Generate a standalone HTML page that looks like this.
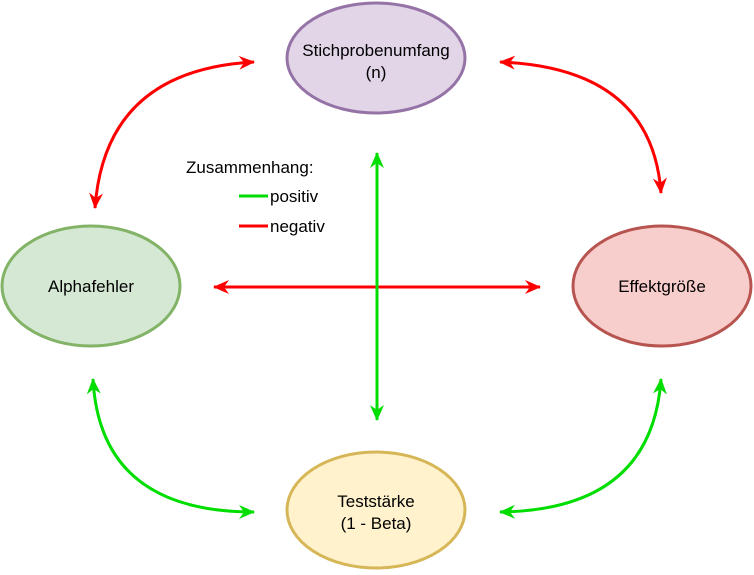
<!DOCTYPE html>
<html><head><meta charset="utf-8"><style>
html,body{margin:0;padding:0;background:#fff;}
svg{display:block;font-family:"Liberation Sans",Helvetica,Arial,sans-serif;}
</style></head><body>
<svg width="754" height="575" viewBox="0 0 754 575" xmlns="http://www.w3.org/2000/svg">
<defs>
<marker id="r" viewBox="0 0 16 14" refX="15" refY="7" markerWidth="16" markerHeight="14" orient="auto-start-reverse" markerUnits="userSpaceOnUse">
<path d="M0,0 L16,7 L0,14 L5,7 Z" fill="#ff0000"/>
</marker>
<marker id="g" viewBox="0 0 16 14" refX="15" refY="7" markerWidth="16" markerHeight="14" orient="auto-start-reverse" markerUnits="userSpaceOnUse">
<path d="M0,0 L16,7 L0,14 L5,7 Z" fill="#00dd00"/>
</marker>
</defs>
<g stroke-width="3">
<ellipse cx="376" cy="58" rx="89" ry="55" fill="#e1d5e7" stroke="#9673a6"/>
<ellipse cx="91" cy="286" rx="89" ry="60" fill="#d5e8d4" stroke="#82b366"/>
<ellipse cx="662" cy="286" rx="89" ry="60" fill="#f8cecc" stroke="#b85450"/>
<ellipse cx="376" cy="510" rx="89" ry="58" fill="#fff2cc" stroke="#d6b656"/>
</g>
<g fill="none" stroke-width="3">
<path d="M95,208 Q105,70 254,62" stroke="#ff0000" marker-start="url(#r)" marker-end="url(#r)"/>
<path d="M500,62 Q652,68 661,193" stroke="#ff0000" marker-start="url(#r)" marker-end="url(#r)"/>
<path d="M93,379 Q100,512 254,512" stroke="#00dd00" marker-start="url(#g)" marker-end="url(#g)"/>
<path d="M500,512 Q652,510 661,379" stroke="#00dd00" marker-start="url(#g)" marker-end="url(#g)"/>
<path d="M214,287 L540,287" stroke="#ff0000" marker-start="url(#r)" marker-end="url(#r)"/>
<path d="M377,153 L377,420" stroke="#00dd00" marker-start="url(#g)" marker-end="url(#g)"/>
<path d="M239,196 L268,196" stroke="#00dd00"/>
<path d="M239,226 L268,226" stroke="#ff0000"/>
</g>
<g font-size="17" fill="#000" text-anchor="middle">
<text x="376" y="56">Stichprobenumfang</text>
<text x="376" y="78">(n)</text>
<text x="91" y="292">Alphafehler</text>
<text x="662" y="292">Effektgröße</text>
<text x="376" y="507">Teststärke</text>
<text x="376" y="529">(1 - Beta)</text>
</g>
<g font-size="17" fill="#000">
<text x="186" y="173">Zusammenhang:</text>
<text x="270" y="202">positiv</text>
<text x="270" y="232">negativ</text>
</g>
</svg>
</body></html>
